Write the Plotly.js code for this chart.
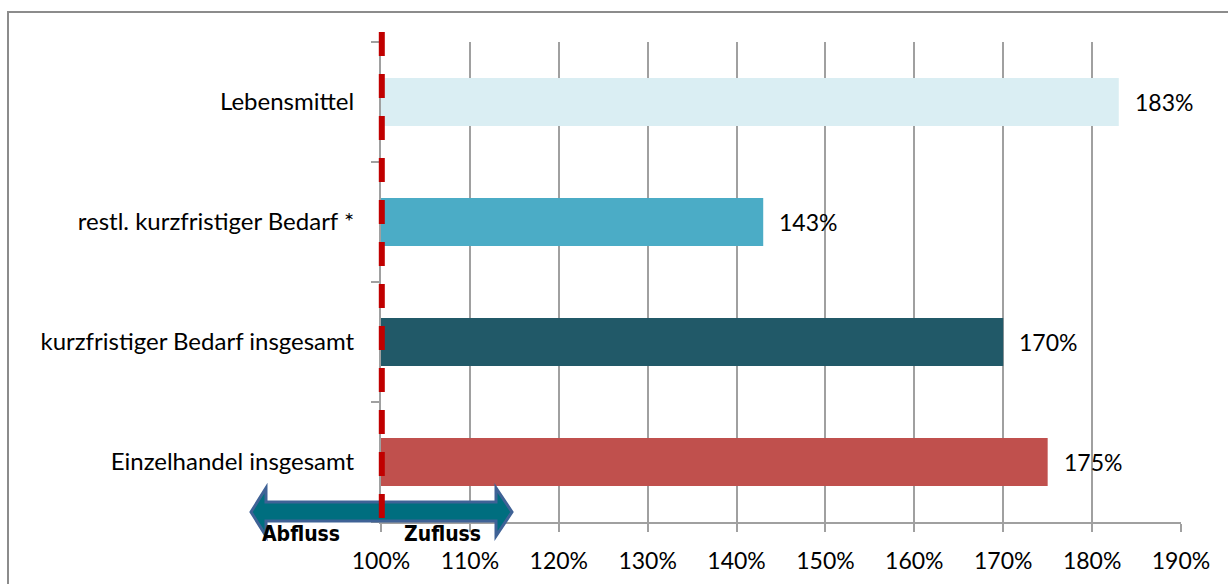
<!DOCTYPE html>
<html>
<head>
<meta charset="utf-8">
<script src="https://cdn.plot.ly/plotly-3.0.1.min.js"></script>
<style>
html,body{margin:0;padding:0;background:#fff;}
#chart{width:1228px;height:584px;}
</style>
</head>
<body>
<div id="chart"></div>
<script>
// Data (bottom to top)
const categories = ["Einzelhandel insgesamt", "kurzfristiger Bedarf insgesamt", "restl. kurzfristiger Bedarf *", "Lebensmittel"];
const values = [175, 170, 143, 183];
const barColors = ["#C0504D", "#215968", "#4BACC6", "#DAEEF3"];
const tickValues = [100, 110, 120, 130, 140, 150, 160, 170, 180, 190];
const tickLabels = ["100%", "110%", "120%", "130%", "140%", "150%", "160%", "170%", "180%", "190%"];
const labelTexts = values.map(v => v + "%");

const FONT = "Lato, 'Open Sans', sans-serif";
const ARROWFONT = "'DejaVu Sans Condensed', 'DejaVu Sans', sans-serif";
const gridCol = "#A0A0A0";

const trace = {
  type: "bar",
  orientation: "h",
  y: categories,
  x: values,
  width: 0.4,
  marker: {color: barColors, line: {width: 0}},
  hoverinfo: "x+y"
};

// Plot area in px: left 381, right 1181, top 42, bottom 522
const L = 381, R = 1181, T = 42, B = 522;
const px = p => (p - L) / (R - L);
const py = p => (B - p) / (B - T);

const arrowPath = [
  ["M", 251, 512], ["L", 266, 488], ["L", 266, 502], ["L", 496, 502], ["L", 496, 488],
  ["L", 512, 512], ["L", 496, 536], ["L", 496, 521], ["L", 266, 521], ["L", 266, 536]
].map(s => s[0] + " " + px(s[1]).toFixed(5) + "," + py(s[2]).toFixed(5)).join(" ") + " Z";

const annotations = values.map((v, i) => ({
  x: v, y: categories[i], xref: "x", yref: "y",
  text: labelTexts[i], showarrow: false, xanchor: "left", yanchor: "middle",
  xshift: 14, font: {family: FONT, size: 23, color: "#000"}
}));
annotations.push({
  x: px(301), y: py(534), xref: "paper", yref: "paper", text: "<b>Abfluss</b>",
  showarrow: false, xanchor: "center", yanchor: "middle",
  font: {family: ARROWFONT, size: 21, color: "#000"}
});
annotations.push({
  x: px(442), y: py(534), xref: "paper", yref: "paper", text: "<b>Zufluss</b>",
  showarrow: false, xanchor: "center", yanchor: "middle",
  font: {family: ARROWFONT, size: 21, color: "#000"}
});

const layout = {
  width: 1228, height: 584,
  margin: {l: L, r: 1228 - R, t: T, b: 584 - B, pad: 0},
  paper_bgcolor: "#fff", plot_bgcolor: "#fff",
  showlegend: false,
  font: {family: FONT, size: 23, color: "#000"},
  xaxis: {
    range: [100, 190], tickvals: tickValues, ticktext: tickLabels,
    showgrid: true, gridcolor: gridCol, gridwidth: 2,
    showline: true, linecolor: gridCol, linewidth: 2,
    ticks: "outside", ticklen: 8, tickwidth: 2, tickcolor: gridCol,
    ticklabelstandoff: 9,
    tickfont: {family: FONT, size: 23, color: "#000"},
    zeroline: false, fixedrange: true
  },
  yaxis: {
    type: "category", categoryorder: "array", categoryarray: categories,
    range: [-0.5, 3.5],
    showgrid: false, showline: true, linecolor: gridCol, linewidth: 2,
    ticks: "outside", tickson: "boundaries", ticklen: 8, tickwidth: 2, tickcolor: gridCol,
    ticklabelstandoff: 20,
    tickfont: {family: FONT, size: 24, color: "#000"},
    zeroline: false, fixedrange: true
  },
  shapes: [
    {type: "rect", xref: "paper", yref: "paper", x0: px(8), x1: px(1250), y0: py(610), y1: py(12),
     line: {color: "#8C8C8C", width: 2}, fillcolor: "rgba(0,0,0,0)", layer: "below"},
    {type: "path", xref: "paper", yref: "paper", path: arrowPath,
     fillcolor: "#006E7F", line: {color: "#3F6296", width: 3}, layer: "above"},
    {type: "line", xref: "paper", yref: "paper", x0: 0.001, x1: 0.001, y0: py(32), y1: py(518),
     line: {color: "#C00000", width: 6, dash: "24px,18px"}, layer: "above"}
  ],
  annotations: annotations
};

Plotly.newPlot("chart", [trace], layout, {displayModeBar: false, staticPlot: true});
</script>
</body>
</html>
